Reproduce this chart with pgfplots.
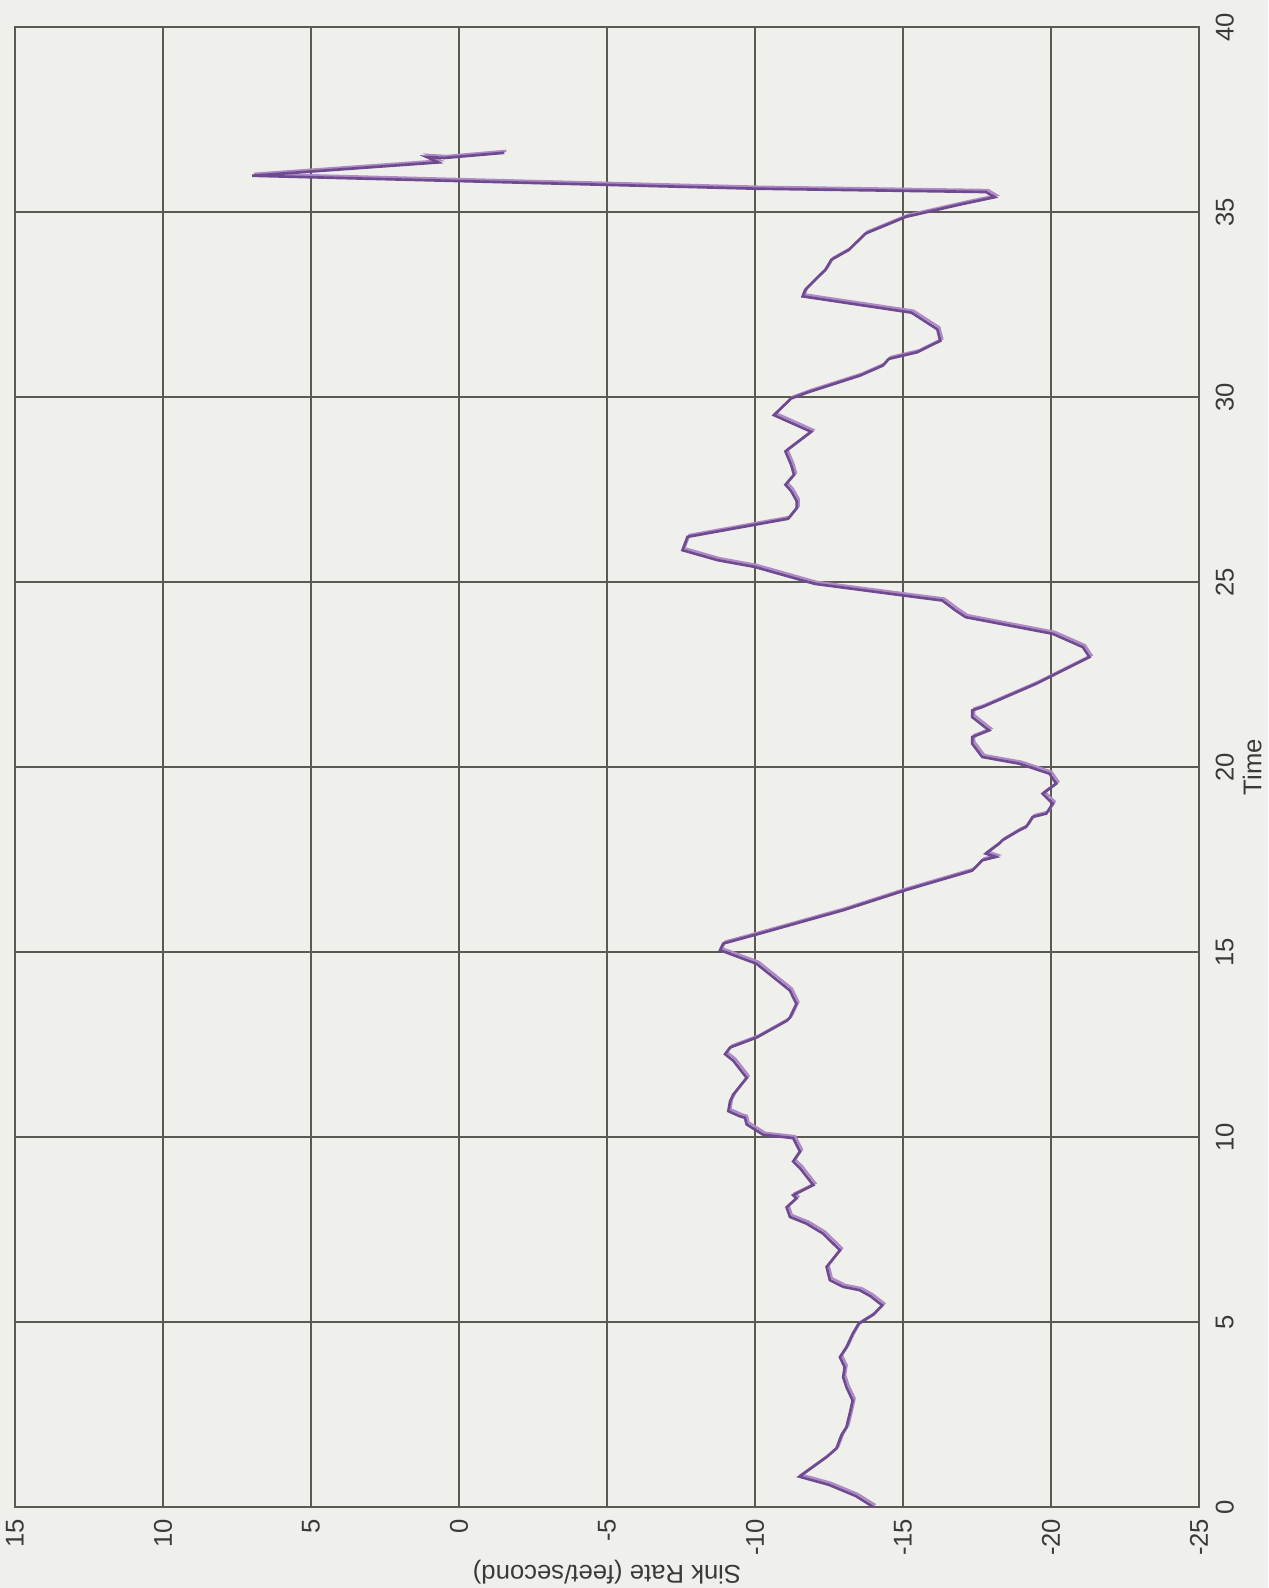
\documentclass[border=0pt]{standalone}
\usepackage{pgfplots}
\usepackage{pgfplotstable}
\pgfplotsset{compat=1.18}
\usepackage{fontspec}
\setmainfont{Liberation Sans}
\definecolor{bg}{HTML}{EFEFEB}
\definecolor{gridc}{HTML}{5A5A52}
\definecolor{lineA}{HTML}{6E4A8E}
\definecolor{lineB}{HTML}{B08AC8}
\definecolor{txt}{HTML}{3A3A3A}
\pgfplotstableread{
t S
0.00 -14.0
0.30 -13.4
0.60 -12.5
0.82 -11.5
1.35 -12.42
1.58 -12.75
1.94 -12.92
2.16 -13.09
2.52 -13.2
2.88 -13.3
3.24 -13.09
3.51 -12.98
3.78 -13.03
4.05 -12.87
4.32 -13.09
4.68 -13.3
4.95 -13.5
5.20 -14.0
5.45 -14.3
5.70 -13.9
5.86 -13.54
5.95 -12.98
6.13 -12.53
6.49 -12.42
6.94 -12.87
7.39 -12.3
7.66 -11.74
7.84 -11.18
8.10 -11.07
8.34 -11.4
8.43 -11.29
8.70 -11.97
9.16 -11.52
9.34 -11.29
9.61 -11.52
9.97 -11.29
10.06 -10.28
10.34 -9.72
10.52 -9.66
10.56 -9.49
10.70 -9.10
10.97 -9.16
11.15 -9.27
11.60 -9.72
12.06 -9.27
12.24 -8.99
12.42 -9.16
12.69 -10.06
13.14 -11.07
13.23 -11.18
13.60 -11.40
13.96 -11.18
14.32 -10.62
14.68 -10.06
15.05 -8.82
15.23 -8.93
15.50 -10.17
16.13 -12.98
16.67 -15.08
17.20 -17.34
17.48 -17.68
17.57 -18.14
17.66 -17.80
17.93 -18.25
18.02 -18.36
18.29 -18.93
18.38 -19.16
18.65 -19.38
18.74 -19.84
19.01 -20.06
19.28 -19.72
19.55 -20.18
19.82 -19.95
20.09 -18.93
20.27 -17.68
20.63 -17.34
20.81 -17.34
20.99 -17.91
21.35 -17.34
21.53 -17.34
21.62 -17.68
22.25 -19.50
22.97 -21.30
23.24 -21.08
23.60 -20.06
24.05 -17.12
24.23 -16.78
24.50 -16.33
24.64 -14.97
24.95 -12.02
25.41 -9.98
25.59 -8.74
25.86 -7.55
26.22 -7.72
26.71 -11.12
27.00 -11.41
27.19 -11.41
27.46 -11.22
27.63 -11.03
27.90 -11.32
28.17 -11.22
28.53 -11.03
29.06 -11.90
29.51 -10.64
29.96 -11.22
30.13 -11.80
30.58 -13.55
30.85 -14.32
31.03 -14.52
31.21 -15.48
31.52 -16.26
31.83 -16.16
32.28 -15.29
32.72 -11.61
32.90 -11.70
33.44 -12.38
33.71 -12.58
33.97 -13.16
34.42 -13.74
34.87 -15.10
35.22 -17.03
35.40 -18.10
35.54 -17.81
35.63 -10.06
35.98 6.99
36.34 0.70
36.49 1.10
36.46 0.50
36.60 -1.53
}\sink
\begin{document}
\begin{tikzpicture}
\path[use as bounding box, fill=bg] (-4.5pt,-24.3pt) rectangle (375.9pt,452.1pt);
\begin{axis}[
 scale only axis, width=355.2pt, height=444pt,
 at={(0pt,0pt)}, anchor=south west,
 xmin=-25, xmax=15, x dir=reverse, ymin=0, ymax=40,
 xtick={-25,-20,...,15}, ytick={0,5,...,40},
 grid=major, grid style={gridc, line width=0.6pt},
 axis line style={gridc, line width=0.8pt},
 major tick length=0pt,
 font=\fontsize{7.7}{9}\selectfont,
 tick label style={txt, font=\fontsize{7.7}{9}\selectfont},
 /pgf/number format/assume math mode=true,
 xticklabel style={rotate=90, anchor=east},
 yticklabel pos=right,
 yticklabel style={rotate=90, anchor=north, yshift=-1.5pt},
 xlabel={Sink Rate (feet/second)},
 xlabel style={at={(axis description cs:0.5,0)}, anchor=center, rotate=180, yshift=19.6pt, txt},
 ylabel={Time},
 ylabel style={at={(axis description cs:1,0.5)}, anchor=center, yshift=-16pt, txt},
 axis background/.style={fill=bg},
]
\addplot[lineB, line width=0.7pt, no marks, xshift=0.6pt, yshift=0.6pt] table[x=S,y=t]{\sink};
\addplot[lineA, line width=0.8pt, no marks] table[x=S,y=t]{\sink};
\end{axis}
\end{tikzpicture}
\end{document}
